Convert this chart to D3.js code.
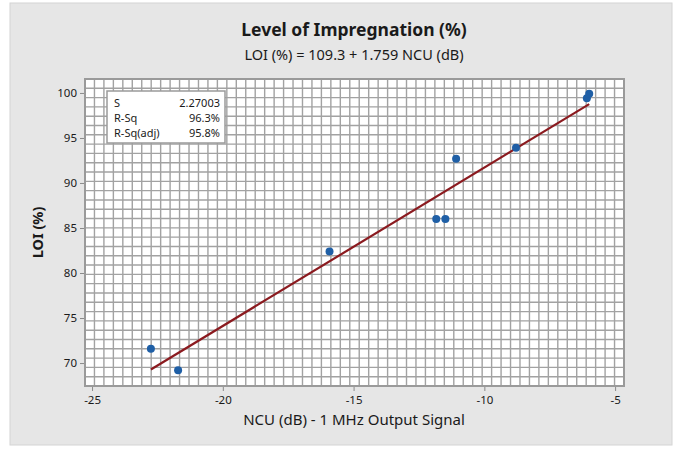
<!DOCTYPE html>
<html>
<head>
<meta charset="utf-8">
<script src="https://cdn.jsdelivr.net/npm/d3@7"></script>
<style>
  body { margin: 0; background: #fff; }
  text { font-family: "Noto Sans", "Open Sans", sans-serif; fill: #1a1a1a; }
</style>
</head>
<body>
<svg id="chart"></svg>
<script>
// DATA
const ncu = [-22.75, -21.71, -15.92, -11.84, -11.49, -11.08, -8.79, -6.08, -5.99]
const loi = [71.6, 69.2, 82.4, 86.0, 86.0, 92.7, 93.9, 99.4, 99.9]
const fitIntercept = 109.3
const fitSlope = 1.759
const xTicks = [-25, -20, -15, -10, -5]
const yTicks = [70, 75, 80, 85, 90, 95, 100]
const statLabels = ['S', 'R-Sq', 'R-Sq(adj)']
const statValues = ['2.27003', '96.3%', '95.8%']

const width = 678
const height = 449
const plot = { left: 85, right: 624, top: 79, bottom: 386 }

const svg = d3.select('#chart').attr('width', width).attr('height', height)

// background panel
svg.append('rect')
  .attr('x', 10).attr('y', 3)
  .attr('width', 662).attr('height', 442)
  .attr('fill', '#e6e6e6')
  .attr('stroke', '#d4d4d4')

// SCALES
const x = d3.scaleLinear()
  .domain([-25.27, -4.66])
  .range([plot.left, plot.right])
const y = d3.scaleLinear()
  .domain([67.45, 101.55])
  .range([plot.bottom, plot.top])

// plot area
svg.append('rect')
  .attr('x', plot.left).attr('y', plot.top)
  .attr('width', plot.right - plot.left)
  .attr('height', plot.bottom - plot.top)
  .attr('fill', '#fff')

// graph paper grid
const grid = svg.append('g').attr('stroke', '#a2a2a2').attr('stroke-width', 1.4)
const nCols = 57
const nRows = 33
d3.range(1, nCols).forEach(i => {
  const gx = plot.left + (i * (plot.right - plot.left)) / nCols
  grid.append('line').attr('x1', gx).attr('x2', gx).attr('y1', plot.top).attr('y2', plot.bottom)
})
d3.range(1, nRows).forEach(i => {
  const gy = plot.top + (i * (plot.bottom - plot.top)) / nRows
  grid.append('line').attr('y1', gy).attr('y2', gy).attr('x1', plot.left).attr('x2', plot.right)
})

svg.append('rect')
  .attr('x', plot.left).attr('y', plot.top)
  .attr('width', plot.right - plot.left)
  .attr('height', plot.bottom - plot.top)
  .attr('fill', 'none')
  .attr('stroke', '#9a9a9a')
  .attr('stroke-width', 2)

// AXES
const fmt = d => String(d)
const xAxis = svg.append('g')
  .attr('transform', `translate(0,${plot.bottom + 1})`)
  .call(d3.axisBottom(x).tickValues(xTicks).tickSize(4).tickSizeOuter(0).tickFormat(fmt))
const yAxis = svg.append('g')
  .attr('transform', `translate(${plot.left - 1},0)`)
  .call(d3.axisLeft(y).tickValues(yTicks).tickSize(4).tickSizeOuter(0).tickFormat(fmt))
;[xAxis, yAxis].forEach(a => {
  a.select('.domain').remove()
  a.selectAll('line').attr('stroke', '#8a8a8a')
  a.selectAll('text').style('font-size', '11.5px').attr('fill', '#222')
})
xAxis.selectAll('text').attr('dy', '0.85em')

// FIT LINE
const line = d3.line().x(d => x(d)).y(d => y(fitIntercept + fitSlope * d))
svg.append('path')
  .attr('d', line(d3.extent(ncu)))
  .attr('fill', 'none')
  .attr('stroke', '#8b1a1f')
  .attr('stroke-width', 2.2)

// POINTS
svg.append('g').selectAll('circle')
  .data(ncu.map((d, i) => [d, loi[i]]))
  .join('circle')
  .attr('cx', d => x(d[0]))
  .attr('cy', d => y(d[1]))
  .attr('r', 4)
  .attr('fill', '#1f5fa6')

// STATS BOX
const box = svg.append('g').attr('transform', 'translate(107,91)')
box.append('rect')
  .attr('width', 118).attr('height', 52)
  .attr('fill', '#fff')
  .attr('stroke', '#9a9a9a')
  .attr('stroke-width', 1.5)
statLabels.forEach((s, i) => {
  box.append('text').attr('x', 7).attr('y', 15.5 + i * 15).style('font-size', '11px').text(s)
  box.append('text').attr('x', 113).attr('y', 15.5 + i * 15)
    .attr('text-anchor', 'end').style('font-size', '11px').text(statValues[i])
})

// TITLES
svg.append('text')
  .attr('x', 354).attr('y', 36)
  .attr('text-anchor', 'middle')
  .style('font-size', '17.5px').style('font-weight', 'bold')
  .text('Level of Impregnation (%)')
svg.append('text')
  .attr('x', 354).attr('y', 60)
  .attr('text-anchor', 'middle')
  .style('font-size', '14.5px')
  .text('LOI (%) = 109.3 + 1.759 NCU (dB)')
svg.append('text')
  .attr('x', 354).attr('y', 425)
  .attr('text-anchor', 'middle')
  .style('font-size', '15px')
  .text('NCU (dB) - 1 MHz Output Signal')
svg.append('text')
  .attr('transform', `translate(43,${(plot.top + plot.bottom) / 2}) rotate(-90)`)
  .attr('text-anchor', 'middle')
  .style('font-size', '14.5px').style('font-weight', 'bold')
  .text('LOI (%)')
</script>
</body>
</html>
